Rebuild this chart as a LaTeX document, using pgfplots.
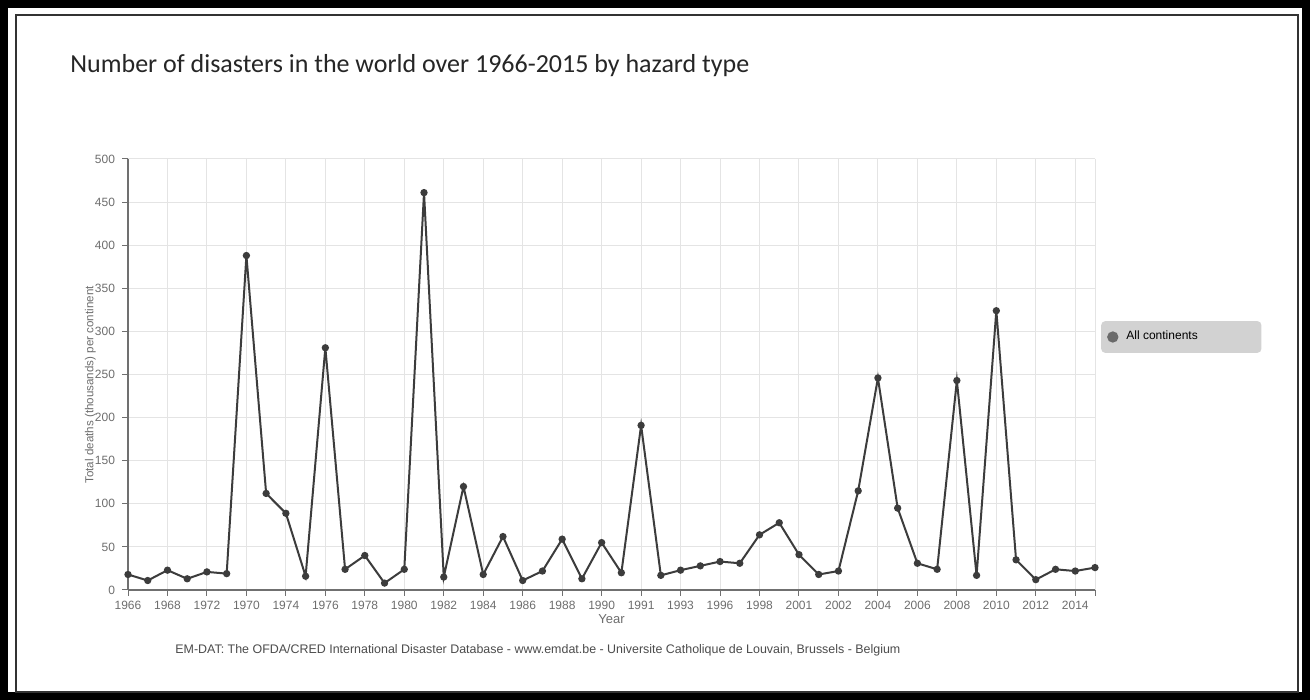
\documentclass[border=0pt]{standalone}
\usepackage{fontspec}
\setmainfont{Liberation Sans}
\newfontfamily\titlefont{Carlito}
\usepackage{pgfplots}
\pgfplotsset{compat=1.18}
\definecolor{linecol}{HTML}{3C3C3C}
\definecolor{gridcol}{HTML}{E4E4E4}
\definecolor{axiscol}{HTML}{707070}
\definecolor{labcol}{HTML}{6E6E6E}
\definecolor{legfill}{HTML}{D2D2D2}
\definecolor{legdot}{HTML}{6A6A6A}

\begin{document}
\begin{tikzpicture}[x=0.5pt,y=0.5pt]
\useasboundingbox (0,0) rectangle (1310,700);
\fill[white] (0,0) rectangle (1310,700);
\draw[line width=4pt] (4,4) rectangle (1306,696);
\draw[line width=1pt, black!80] (16,8) rectangle (1298,685);
\node[anchor=base west, inner sep=0, text=black!85,
      font=\titlefont\fontsize{13}{15}\selectfont] at (70,627)
      {Number of disasters in the world over 1966-2015 by hazard type};
\node[anchor=base west, inner sep=0, text=black!70,
      font=\fontsize{6.22}{7}\selectfont] at (175,46)
      {EM-DAT: The OFDA/CRED International Disaster Database - www.emdat.be - Universite Catholique de Louvain, Brussels - Belgium};

\begin{axis}[
    at={(64pt,55pt)},
    anchor=south west,
    width=483.5pt,
    height=215.5pt,
    scale only axis,
    axis x line*=bottom,
    axis y line*=left,
    xmin=0,
    xmax=49,
    ymin=0,
    ymax=500,
    xtick={0,2,...,48},
    xticklabels={1966,1968,1972,1970,1974,1976,1978,1980,1982,1984,1986,1988,1990,1991,1993,1996,1998,2001,2002,2004,2006,2008,2010,2012,2014},
    extra x ticks={49},
    extra x tick labels={},
    ytick={0,50,...,500},
    /pgf/number format/assume math mode=true,
    grid=major,
    grid style={color=gridcol, line width=0.5pt},
    axis line style={color=axiscol, line width=0.6pt},
    tick style={color=axiscol, line width=0.5pt},
    tick align=outside,
    major tick length=3pt,
    tick label style={font=\fontsize{6}{7}\selectfont, text=labcol},
    xticklabel style={yshift=1.2pt},
    ylabel={Total deaths (thousands) per continent},
    ylabel style={font=\fontsize{5.8}{6}\selectfont, text=labcol,
        at={(axis description cs:-0.039,0.476)}, anchor=center},
    xlabel={Year},
    xlabel style={font=\fontsize{6.5}{8}\selectfont, text=labcol,
        at={(axis description cs:0.5,-0.068)}, anchor=center},
    legend style={at={(1.006,0.587)}, anchor=west, fill=legfill, draw=none,
        rounded corners=2pt, font=\fontsize{6}{7}\selectfont,
        inner xsep=3pt, inner ysep=3pt},
    legend image code/.code={\fill[legdot] (0pt,0pt) circle (2.3pt);},
]
\addplot[color=linecol, line width=1pt, mark=*, mark size=1.3pt,
    mark options={fill=linecol}]
table {
0 18
1 11
2 23
3 13
4 21
5 19
6 388
7 112
8 89
9 16
10 281
11 24
12 40
13 8
14 24
15 461
16 15
17 120
18 18
19 62
20 11
21 22
22 59
23 13
24 55
25 20
26 191
27 17
28 23
29 28
30 33
31 31
32 64
33 78
34 41
35 18
36 22
37 115
38 246
39 95
40 31
41 24
42 243
43 17
44 324
45 35
46 12
47 24
48 22
49 26
};
\addlegendentry{\makebox[64.5pt][l]{\hspace{2pt}All continents}}
\end{axis}
\end{tikzpicture}
\end{document}
